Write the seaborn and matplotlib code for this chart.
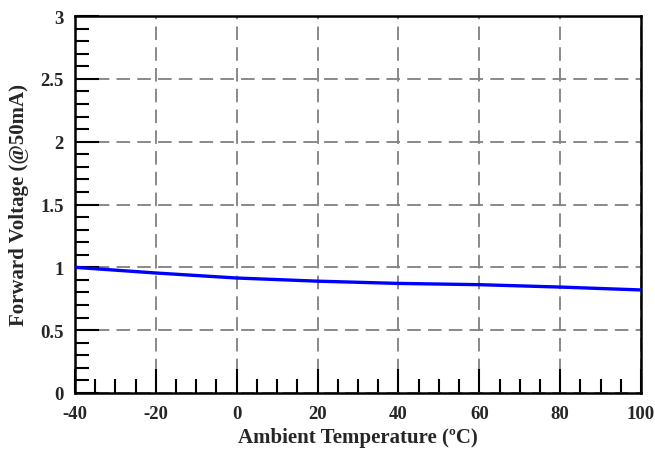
import matplotlib
matplotlib.use("Agg")
import matplotlib.pyplot as plt
from matplotlib.ticker import MultipleLocator
import seaborn as sns
import pandas as pd

temps = [-40, -20, 0, 20, 40, 60, 80, 100]
voltages = [1.00, 0.955, 0.915, 0.89, 0.872, 0.862, 0.843, 0.82]

sns.set_style("white")
plt.rcParams['font.family'] = ['Liberation Serif', 'DejaVu Serif']
plt.rcParams['font.weight'] = 'bold'
plt.rcParams['axes.unicode_minus'] = False

df = pd.DataFrame({"t": temps, "v": voltages})
fig = plt.figure(figsize=(6.55, 4.56), dpi=100)
ax = fig.add_axes([75/655, 62/456, 566/655, 377/456])
sns.lineplot(data=df, x="t", y="v", ax=ax, color="#0000ff", linewidth=2.4, zorder=3)

ax.set_xlim(-40, 100)
ax.set_ylim(0, 3)
ax.xaxis.set_major_locator(MultipleLocator(20))
ax.xaxis.set_minor_locator(MultipleLocator(5))
ax.yaxis.set_minor_locator(MultipleLocator(0.1))
ax.set_yticks([0, 0.5, 1, 1.5, 2, 2.5, 3])
ax.set_yticklabels(["0", "0.5", "1", "1.5", "2", "2.5", "3"])
ax.tick_params(which="major", direction="in", length=17, width=1.5, color="black",
               labelsize=13.5, top=False, right=False, bottom=True, left=True)
ax.tick_params(axis="x", which="major", pad=9)
ax.tick_params(axis="y", which="major", pad=8)
ax.tick_params(which="minor", direction="in", length=10, width=1.5, color="black",
               top=False, right=False, bottom=True, left=True)
for lbl in ax.get_xticklabels() + ax.get_yticklabels():
    lbl.set_fontweight("bold")

ax.grid(True, which="major", color="#808080", linestyle=(0, (7.5, 4)), linewidth=1.3)
for s in ax.spines.values():
    s.set_color("black")
    s.set_linewidth(1.8)

ax.set_xlabel("Ambient Temperature (ºC)", fontsize=15, fontweight="bold", labelpad=3)
ax.set_ylabel("Forward Voltage (@50mA)", fontsize=15, fontweight="bold", labelpad=8)

fig.savefig("out.png", dpi=100)
